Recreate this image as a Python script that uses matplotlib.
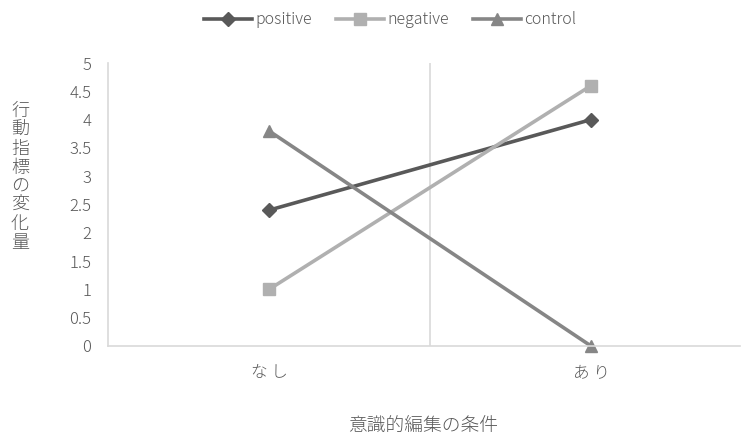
import matplotlib.pyplot as plt

plt.rcParams['font.family'] = ['Noto Sans CJK JP', 'DejaVu Sans']
plt.rcParams['font.weight'] = 'light'

conditions = ['な し', 'あ り']
positive = [2.4, 4.0]
negative = [1.0, 4.6]
control = [3.8, 0.0]
yticks = [0, 0.5, 1, 1.5, 2, 2.5, 3, 3.5, 4, 4.5, 5]

text_color = '#595959'
grid_color = '#d9d9d9'

fig = plt.figure(figsize=(7.42, 4.37), dpi=100)
ax = fig.add_axes([108 / 742, 1 - 346 / 437, 632 / 742, 283 / 437])

x = list(range(len(conditions)))
ax.plot(x, positive, color='#595959', lw=2.6, marker='D', ms=7, label='positive', clip_on=False)
ax.plot(x, negative, color='#b0b0b0', lw=2.6, marker='s', ms=9, label='negative', clip_on=False)
ax.plot(x, control, color='#868686', lw=2.6, marker='^', ms=9, label='control', clip_on=False)

# category divider
ax.axvline(0.5, color=grid_color, lw=1.2, zorder=0)

ax.set_xlim(-0.5, 1.4627)
ax.set_ylim(0, 5)
ax.set_xticks(x)
ax.set_xticklabels(conditions)
ax.set_yticks(yticks)
ax.set_yticklabels([f'{v:g}' for v in yticks])
ax.tick_params(axis='both', length=0, colors=text_color, labelsize=12)
ax.tick_params(axis='y', pad=12)
ax.tick_params(axis='x', pad=13)

for side in ['top', 'right']:
    ax.spines[side].set_visible(False)
for side in ['left', 'bottom']:
    ax.spines[side].set_color(grid_color)
    ax.spines[side].set_linewidth(1.2)

fig.text(20 / 742, 1 - 177 / 437, '\n'.join('行動指標の変化量'), color=text_color,
         fontsize=13, ha='center', va='center', linespacing=1.06)
fig.text(423 / 742, 1 - 426 / 437, '意識的編集の条件', color=text_color,
         fontsize=13.5, ha='center', va='center')

fig.legend(loc='center', bbox_to_anchor=(390 / 742, 1 - 20 / 437), ncol=3, frameon=False,
           fontsize=11.5, handlelength=3, columnspacing=1.5, handletextpad=0.2,
           labelcolor=text_color)

fig.savefig('out.png', dpi=100)
